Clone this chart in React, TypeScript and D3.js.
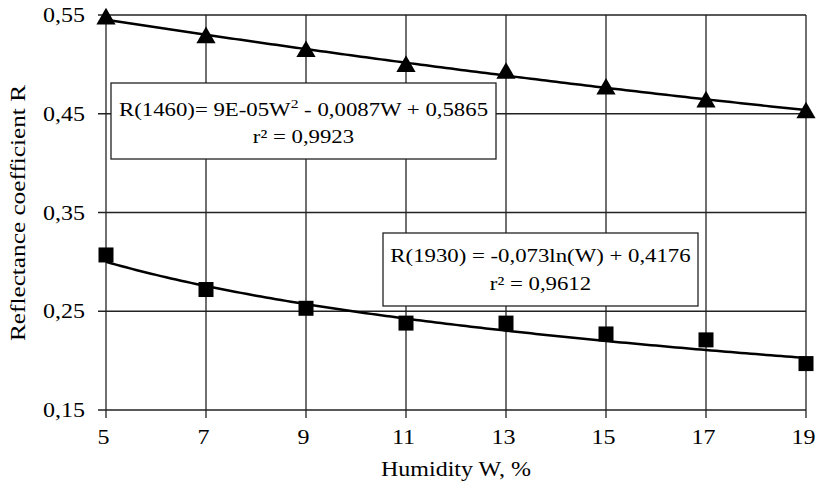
import React, { useRef, useEffect } from "react";
import * as d3 from "d3";

const humidity = [5, 7, 9, 11, 13, 15, 17, 19];
const r1460 = [0.545, 0.526, 0.512, 0.497, 0.49, 0.474, 0.461, 0.45];
const r1930 = [0.307, 0.272, 0.253, 0.238, 0.238, 0.227, 0.221, 0.197];
const yTicks = [0.15, 0.25, 0.35, 0.45, 0.55];

// trendline coefficients, as printed on the chart
const quadCoef = [0.00009, -0.0087, 0.5865];
const logCoef = [-0.073, 0.4176];

const width = 816;
const height = 489;
const stretch = 1.2; // the original text looks widened

const App = () => {
  const ref = useRef(null);

  useEffect(() => {
    const el = ref.current;
    d3.select(el).selectAll("*").remove();
    const svg = d3.select(el);
    const font = "'Liberation Serif', 'Times New Roman', serif";

    const x = d3.scaleLinear().domain([5, 19]).range([106, 806]);
    const y = d3.scaleLinear().domain([0.15, 0.55]).range([410, 15]);

    // horizontal text, stretched a bit in x
    const label = (parent, tx, ty, str, anchor, size = 20) =>
      parent
        .append("g")
        .attr("transform", `translate(${tx},${ty}) scale(${stretch},1)`)
        .append("text")
        .attr("text-anchor", anchor)
        .style("font-family", font)
        .style("font-size", size + "px")
        .text(str);

    // grid
    const g = svg.append("g").attr("stroke", "#222").attr("stroke-width", 1.3);
    yTicks.forEach((t) => {
      g.append("line").attr("x1", 98).attr("x2", x(19)).attr("y1", y(t)).attr("y2", y(t));
    });
    humidity.forEach((h) => {
      g.append("line").attr("x1", x(h)).attr("x2", x(h)).attr("y1", y(0.55)).attr("y2", y(0.15) + 8);
    });

    // tick labels
    yTicks.forEach((t) => {
      label(svg, 85, y(t) + 7, d3.format(".2f")(t).replace(".", ","), "end");
    });
    humidity.forEach((h) => {
      label(svg, x(h) - 2.5, 444, String(h), "middle");
    });

    // axis titles
    label(svg, 456, 476, "Humidity W, %", "middle");
    svg
      .append("text")
      .attr("transform", `translate(25, 213) rotate(-90)`)
      .attr("text-anchor", "middle")
      .style("font-family", font)
      .style("font-size", "20px")
      .attr("textLength", 256)
      .attr("lengthAdjust", "spacingAndGlyphs")
      .text("Reflectance coefficient R");

    // trendlines
    const ws = d3.range(5, 19.01, 0.1);
    const line = d3
      .line()
      .x((d) => x(d[0]))
      .y((d) => y(d[1]));
    svg
      .append("path")
      .attr("d", line(ws.map((w) => [w, quadCoef[0] * w * w + quadCoef[1] * w + quadCoef[2]])))
      .attr("fill", "none")
      .attr("stroke", "#000")
      .attr("stroke-width", 2.5);
    svg
      .append("path")
      .attr("d", line(ws.map((w) => [w, logCoef[0] * Math.log(w) + logCoef[1]])))
      .attr("fill", "none")
      .attr("stroke", "#000")
      .attr("stroke-width", 2.5);

    // markers
    const tri = d3.symbol().type(d3.symbolTriangle).size(160);
    svg
      .append("g")
      .selectAll("path")
      .data(humidity)
      .enter()
      .append("path")
      .attr("d", tri)
      .attr("transform", (d, i) => `translate(${x(d)},${y(r1460[i]) - 1})`)
      .attr("fill", "#000");
    svg
      .append("g")
      .selectAll("rect")
      .data(humidity)
      .enter()
      .append("rect")
      .attr("x", (d) => x(d) - 7.5)
      .attr("y", (d, i) => y(r1930[i]) - 7.5)
      .attr("width", 15)
      .attr("height", 15)
      .attr("fill", "#000");

    // equation boxes
    const box = (x0, y0, w, h, b1, b2, line1, line2) => {
      const b = svg.append("g");
      b.append("rect")
        .attr("x", x0)
        .attr("y", y0)
        .attr("width", w)
        .attr("height", h)
        .attr("fill", "#fff")
        .attr("stroke", "#222")
        .attr("stroke-width", 1.3);
      const t1 = label(b, x0 + w / 2, b1, "", "middle", 19);
      line1(t1);
      label(b, x0 + w / 2, b2, line2, "middle", 19);
    };

    box(111, 83, 385, 76, 116, 143, (t) => {
      t.append("tspan").text("R(1460)= 9E-05W");
      t.append("tspan").attr("dy", -8).style("font-size", "13px").text("2");
      t.append("tspan").attr("dy", 8).text(" - 0,0087W + 0,5865");
    }, "r² = 0,9923");

    box(383, 233, 315, 73, 262, 290, (t) => {
      t.text("R(1930) = -0,073ln(W) + 0,4176");
    }, "r² = 0,9612");
  }, []);

  return (
    <svg
      ref={ref}
      width={width}
      height={height}
      style={{ position: "absolute", left: 0, top: 0, background: "#fff" }}
    />
  );
};

export default App;
